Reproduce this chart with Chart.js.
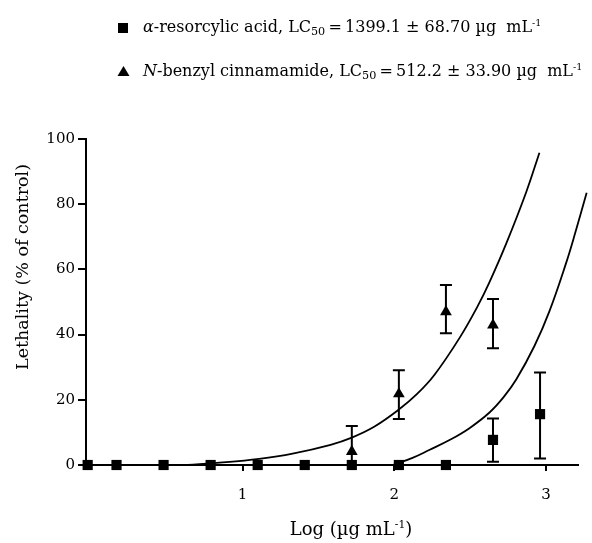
<!DOCTYPE html>
<html>
<head>
<meta charset="utf-8">
<script src="https://cdn.jsdelivr.net/npm/chart.js@4.4.0/dist/chart.umd.min.js"></script>
<style>
  body { margin: 0; background: #fff; }
  canvas { display: block; }
</style>
</head>
<body>
<canvas id="lethalityChart" width="592" height="543"></canvas>
<script>
// values (x = log dose, y = % lethality)
const acidX = [-0.02, 0.17, 0.48, 0.79, 1.10, 1.41, 1.72, 2.03, 2.34, 2.65, 2.96];
const acidY = [0, 0, 0, 0, 0, 0, 0, 0, 0, 7.7, 15.6];
const acidLow = [null, null, null, null, null, null, null, null, null, 1.0, 2.0];
const acidHigh = [null, null, null, null, null, null, null, null, null, 14.3, 28.4];

const amideX = [1.72, 2.03, 2.34, 2.65];
const amideY = [4.1, 21.8, 47.0, 42.9];
const amideLow = [0, 14.1, 40.4, 35.8];
const amideHigh = [12.0, 29.1, 55.2, 50.9];

// fitted curves
const amideFitX = [0.64, 0.85, 1.11, 1.33, 1.58, 1.72, 1.87, 2.03, 2.15, 2.265, 2.43, 2.55, 2.627, 2.737, 2.868, 2.956];
const amideFitY = [0, 0.7, 1.9, 3.5, 6.2, 8.4, 11.8, 17.0, 21.8, 27.7, 39.0, 48.8, 56.1, 67.9, 83.6, 95.8];
const acidFitX = [1.99, 2.12, 2.23, 2.37, 2.495, 2.627, 2.72, 2.803, 2.923, 3.022, 3.132, 3.19, 3.267];
const acidFitY = [0, 2.2, 4.6, 7.8, 11.3, 16.1, 20.8, 26.2, 36.5, 47.2, 62.0, 70.9, 83.5];

const xTicks = [1, 2, 3];
const yTicks = [0, 20, 40, 60, 80, 100];

const acidLabel = [["α", "i"], ["-resorcylic acid, LC", ""], ["50", "sub"], ["\u2009=\u20091399.1 ± 68.70 µg  mL", ""], ["-1", "sup"]];
const amideLabel = [["N", "i"], ["-benzyl cinnamamide, LC", ""], ["50", "sub"], ["\u2009=\u2009512.2 ± 33.90 µg  mL", ""], ["-1", "sup"]];
const xTitle = [["Log (µg mL", ""], ["-1", "sup"], [")", ""]];
const yTitle = "Lethality (% of control)";

const FONT = "'DejaVu Serif', serif";

function toPoints(xs, ys) {
  return xs.map((x, i) => ({ x: x, y: ys[i] }));
}

// draws a run of text pieces (normal / italic / sub / sup), returns width
function drawRich(ctx, parts, x, y, size, measureOnly) {
  let cx = x;
  parts.forEach(([txt, kind]) => {
    let s = size, dy = 0, style = "";
    if (kind === "sub") { s = size * 0.7; dy = size * 0.18; }
    if (kind === "sup") { s = size * 0.6; dy = -size * 0.4; }
    if (kind === "i") style = "italic ";
    ctx.font = style + s + "px " + FONT;
    if (!measureOnly) ctx.fillText(txt, cx, y + dy);
    cx += ctx.measureText(txt).width;
  });
  return cx - x;
}

const errorBars = {
  id: "errorBars",
  beforeDatasetsDraw(chart) {
    const ctx = chart.ctx;
    const xs = chart.scales.x, ys = chart.scales.y;
    const sets = [[acidX, acidLow, acidHigh], [amideX, amideLow, amideHigh]];
    ctx.save();
    ctx.strokeStyle = "#000";
    ctx.lineWidth = 2;
    sets.forEach(([px, lo, hi]) => {
      px.forEach((v, i) => {
        if (lo[i] === null) return;
        const x = xs.getPixelForValue(v);
        const y1 = ys.getPixelForValue(lo[i]);
        const y2 = ys.getPixelForValue(hi[i]);
        ctx.beginPath();
        ctx.moveTo(x, y1); ctx.lineTo(x, y2);
        if (lo[i] > 0) { ctx.moveTo(x - 6, y1); ctx.lineTo(x + 6, y1); }
        ctx.moveTo(x - 6, y2); ctx.lineTo(x + 6, y2);
        ctx.stroke();
      });
    });
    ctx.restore();
  }
};

const textLayer = {
  id: "textLayer",
  afterDraw(chart) {
    const ctx = chart.ctx;
    ctx.save();
    ctx.fillStyle = "#000";
    ctx.textBaseline = "alphabetic";
    ctx.textAlign = "left";

    // legend
    ctx.fillRect(118, 23, 10, 10);
    ctx.beginPath();
    ctx.moveTo(123.5, 66); ctx.lineTo(129.5, 76); ctx.lineTo(117.5, 76);
    ctx.closePath(); ctx.fill();
    drawRich(ctx, acidLabel, 143, 32, 16);
    drawRich(ctx, amideLabel, 143, 76, 16);

    // x title
    const w = drawRich(ctx, xTitle, 0, 0, 18, true);
    drawRich(ctx, xTitle, 351 - w / 2, 535, 18);

    // y title
    ctx.translate(28, 267);
    ctx.rotate(-Math.PI / 2);
    ctx.textAlign = "center";
    ctx.font = "17.5px " + FONT;
    ctx.fillText(yTitle, 0, 0);
    ctx.restore();
  }
};

const ctx = document.getElementById("lethalityChart").getContext("2d");
new Chart(ctx, {
  type: "scatter",
  data: {
    datasets: [
      {
        label: "N-benzyl cinnamamide fit",
        data: toPoints(amideFitX, amideFitY),
        showLine: true,
        borderColor: "#000",
        borderWidth: 1.8,
        pointRadius: 0,
        tension: 0.4,
        clip: false,
      },
      {
        label: "α-resorcylic acid fit",
        data: toPoints(acidFitX, acidFitY),
        showLine: true,
        borderColor: "#000",
        borderWidth: 1.8,
        pointRadius: 0,
        tension: 0.4,
        clip: false,
      },
      {
        label: "N-benzyl cinnamamide",
        data: toPoints(amideX, amideY),
        pointStyle: "triangle",
        pointRadius: 6.8,
        backgroundColor: "#000",
        borderColor: "#000",
        borderWidth: 0,
        clip: false,
      },
      {
        label: "α-resorcylic acid",
        data: toPoints(acidX, acidY),
        pointStyle: "rect",
        pointRadius: 7.2,
        backgroundColor: "#000",
        borderColor: "#000",
        borderWidth: 0,
        clip: false,
      },
    ],
  },
  options: {
    responsive: false,
    animation: false,
    layout: { padding: { top: 139, right: 14, left: 0, bottom: 0 } },
    plugins: { legend: { display: false }, tooltip: { enabled: false } },
    scales: {
      x: {
        type: "linear",
        min: -0.031,
        max: 3.21,
        afterBuildTicks: (axis) => { axis.ticks = xTicks.map((v) => ({ value: v })); },
        afterFit: (axis) => { axis.height = 78; },
        grid: { drawOnChartArea: false, tickLength: 6, color: "#000", lineWidth: 2 },
        border: { color: "#000", width: 2 },
        ticks: { color: "#000", padding: 15, font: { family: FONT, size: 15 } },
      },
      y: {
        min: 0,
        max: 100,
        afterBuildTicks: (axis) => { axis.ticks = yTicks.map((v) => ({ value: v })); },
        afterFit: (axis) => { axis.width = 86; },
        grid: { drawOnChartArea: false, tickLength: 8, color: "#000", lineWidth: 2 },
        border: { color: "#000", width: 2 },
        ticks: { color: "#000", padding: 3, font: { family: FONT, size: 15 } },
      },
    },
  },
  plugins: [errorBars, textLayer],
});
</script>
</body>
</html>
